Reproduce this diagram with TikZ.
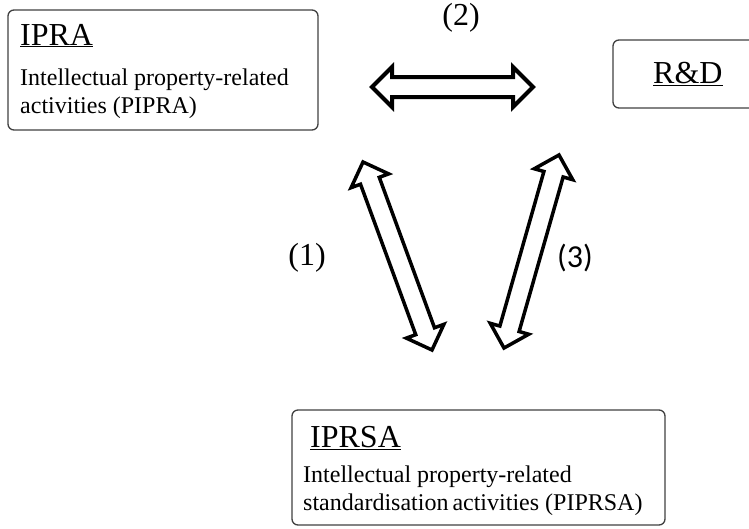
\documentclass[tikz,border=0pt]{standalone}
\usepackage{fontspec}
\setmainfont{Liberation Serif}
\newfontfamily\numfont{Carlito}
\usetikzlibrary{calc}

\tikzset{
  box/.style={draw=black!75,line width=1.3pt,rounded corners=6pt},
  head/.style={font=\fontsize{32}{36}\selectfont,anchor=base west,inner sep=0pt},
  body/.style={font=\fontsize{24}{28}\selectfont,anchor=base west,inner sep=0pt},
  num/.style={font=\fontsize{32}{36}\selectfont,inner sep=0pt},
  blockarrow/.style={line width=#1,line join=miter,to path={
    (\tikztostart)
    -- ($(\tikztostart)!28.28pt!45:(\tikztotarget)$)
    -- ($(\tikztostart)!22.36pt!26.57:(\tikztotarget)$)
    -- ($(\tikztotarget)!22.36pt!-26.57:(\tikztostart)$)
    -- ($(\tikztotarget)!28.28pt!-45:(\tikztostart)$)
    -- (\tikztotarget)
    -- ($(\tikztotarget)!28.28pt!45:(\tikztostart)$)
    -- ($(\tikztotarget)!22.36pt!26.57:(\tikztostart)$)
    -- ($(\tikztostart)!22.36pt!-26.57:(\tikztotarget)$)
    -- ($(\tikztostart)!28.28pt!-45:(\tikztotarget)$)
    -- cycle}},
  blockarrow/.default=4pt
}

\begin{document}
\begin{tikzpicture}[x=1pt,y=-1pt]
\useasboundingbox (0,0) rectangle (749,528);

% boxes
\node[box,minimum width=310pt,minimum height=120pt] (ipra) at (163,70) {};
\node[box,minimum width=170pt,minimum height=68pt] (rnd) at (698,74) {};
\node[box,minimum width=373pt,minimum height=115pt] (iprsa) at (478.5,467.5) {};

% texts
\node[head] (ipratitle) at (20,45) {\underline{IPRA}};
\node[body] (iprabodya) at (20,85) {Intellectual property-related};
\node[body] (iprabodyb) at (20,113) {activities (PIPRA)};
\node[head] (rndtitle) at (653,83) {\underline{R\&D}};
\node[head] (iprsatitle) at (310,447) {\underline{IPRSA}};
\node[body] (iprsabodya) at (303,482) {Intellectual property-related};
\node[body] (iprsabodyb) at (303,510) {standardisation\,activities (PIPRSA)};

% arrow ends
\coordinate (twoa) at (372,87);
\coordinate (twob) at (533,87);
\coordinate (onea) at (363,162);
\coordinate (oneb) at (432,350);
\coordinate (threea) at (559,155);
\coordinate (threeb) at (504,348);

\draw[blockarrow] (twoa) to (twob);
\draw[blockarrow=3.5pt] (onea) to (oneb);
\draw[blockarrow=3.5pt] (threea) to (threeb);

% labels
\node[num] (labtwo) at (461,18) {(2)};
\node[num] (labone) at (307,258) {(1)};
\node[num,font=\fontsize{32}{36}\numfont] (labthree) at (575,258) {(3)};
\end{tikzpicture}
\end{document}
